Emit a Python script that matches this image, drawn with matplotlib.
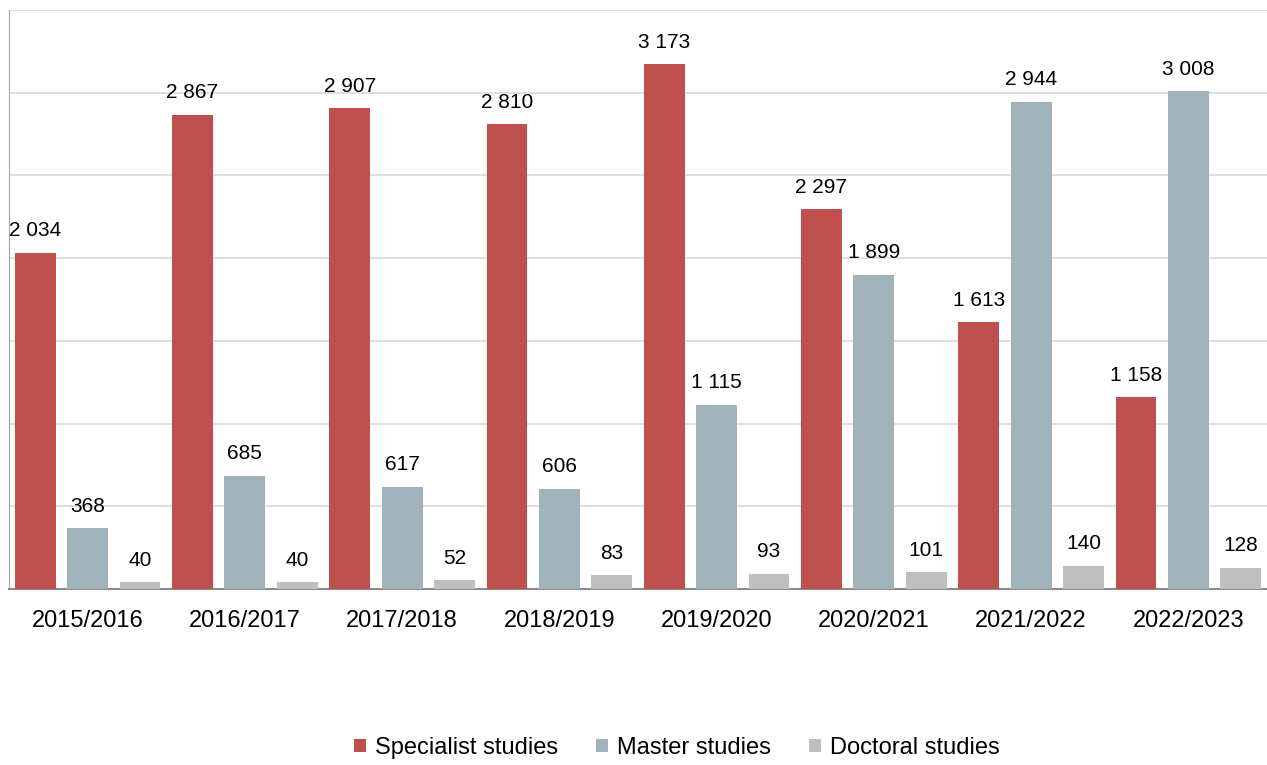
import numpy as np
import matplotlib.pyplot as plt

plt.rcParams['font.family'] = ['Liberation Sans', 'DejaVu Sans']

years = ["2015/2016", "2016/2017", "2017/2018", "2018/2019",
         "2019/2020", "2020/2021", "2021/2022", "2022/2023"]
specialist = [2034, 2867, 2907, 2810, 3173, 2297, 1613, 1158]
master = [368, 685, 617, 606, 1115, 1899, 2944, 3008]
doctoral = [40, 40, 52, 83, 93, 101, 140, 128]

series = [("Specialist studies", specialist, "#C0504D"),
          ("Master studies", master, "#A0B3BA"),
          ("Doctoral studies", doctoral, "#BFBFBF")]

fig = plt.figure(figsize=(12.67, 7.65), dpi=100)
ax = fig.add_axes([9 / 1267, 1 - 589 / 765, 1 - 9 / 1267, 579 / 765])

x = np.arange(len(years))
slot = 1 / 3
width = 0.26
for i, (name, vals, color) in enumerate(series):
    pos = x + (i - 1) * slot
    bars = ax.bar(pos, vals, width, color=color, label=name, zorder=3)
    for b, v in zip(bars, vals):
        txt = "{:,}".format(v).replace(",", " ")
        ax.annotate(txt, (b.get_x() + b.get_width() / 2, v), xytext=(0, 9),
                    textcoords="offset points", ha="center", va="bottom",
                    fontsize=15, color="black")

ax.set_xlim(-0.5, len(years) - 0.5)
ax.set_ylim(0, 3500)
ax.set_yticks(np.arange(0, 3501, 500))
ax.set_yticklabels([])
ax.tick_params(axis="y", length=0)
ax.tick_params(axis="x", length=0, labelsize=17, pad=15)
ax.set_xticks(x)
ax.set_xticklabels(years)
ax.grid(axis="y", color="#D9D9D9", linewidth=1.2, zorder=0)
for s in ["top", "right"]:
    ax.spines[s].set_visible(False)
ax.spines["left"].set_color("#A6A6A6")
ax.spines["bottom"].set_color("#8C8C8C")
ax.spines["bottom"].set_linewidth(1.5)

fig.legend(loc="center", bbox_to_anchor=(677 / 1267, 1 - 748 / 765), ncol=3,
           frameon=False, fontsize=17, handlelength=0.5, handleheight=0.5,
           handletextpad=0.4, columnspacing=1.6)

fig.savefig("out.png", dpi=100)
